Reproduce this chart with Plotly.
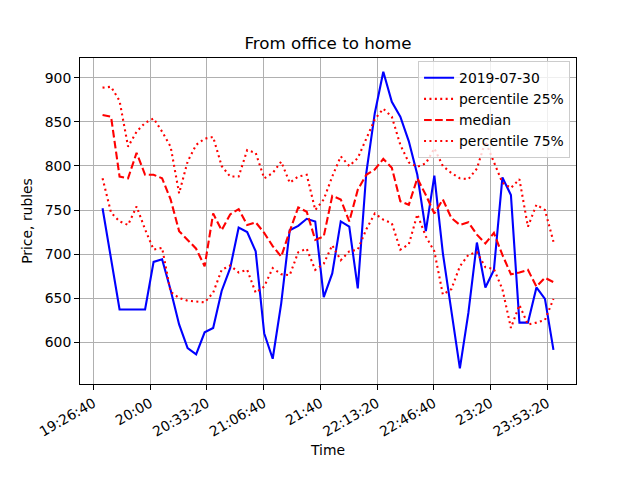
import plotly.graph_objects as go

# time of each observation (2019-07-30, every 5 minutes)
times = [
    "19:32", "19:37", "19:42", "19:47", "19:52", "19:57",
    "20:02", "20:07", "20:12", "20:17", "20:22", "20:27",
    "20:32", "20:37", "20:42", "20:47", "20:52", "20:57",
    "21:02", "21:07", "21:12", "21:17", "21:22", "21:27",
    "21:32", "21:37", "21:42", "21:47", "21:52", "21:57",
    "22:02", "22:07", "22:12", "22:17", "22:22", "22:27",
    "22:32", "22:37", "22:42", "22:47", "22:52", "22:57",
    "23:02", "23:07", "23:12", "23:17", "23:22", "23:27",
    "23:32", "23:37", "23:42", "23:47", "23:52", "23:57",
]
day = "2019-07-30"

price_day = [752, 697, 637, 637, 637, 637, 691, 694, 659, 620,
             593, 586, 611, 616, 658, 684, 730, 725, 703, 610,
             581, 644, 727, 732, 740, 737, 651, 678, 737, 731,
             661, 792, 860, 907, 873, 856, 828, 790, 726, 789,
             701, 637, 570, 633, 713, 662, 682, 787, 767, 622,
             622, 662, 649, 591]
perc_25 = [786, 747, 737, 733, 754, 728, 705, 707, 657, 650,
           647, 646, 645, 656, 682, 687, 679, 682, 656, 663,
           684, 677, 676, 702, 706, 682, 689, 710, 693, 703,
           705, 728, 746, 739, 735, 705, 711, 745, 720, 703,
           654, 660, 686, 699, 702, 685, 683, 660, 616, 642,
           620, 622, 625, 649]
median = [858, 856, 788, 786, 815, 790, 790, 786, 762, 726,
          716, 706, 686, 746, 727, 745, 751, 733, 736, 724,
          709, 697, 726, 753, 748, 716, 720, 766, 762, 737,
          773, 790, 796, 808, 798, 760, 756, 786, 767, 746,
          762, 741, 733, 736, 722, 712, 724, 699, 677, 679,
          682, 663, 673, 668]
perc_75 = [889, 890, 874, 822, 839, 849, 854, 839, 822, 769,
           805, 824, 831, 833, 800, 788, 788, 818, 815, 786,
           792, 805, 781, 788, 790, 750, 762, 788, 811, 800,
           809, 832, 853, 865, 856, 824, 804, 799, 803, 820,
           800, 792, 786, 785, 797, 828, 805, 781, 775, 785,
           731, 756, 750, 714]

tick_times = ["19:26:40", "20:00:00", "20:33:20", "21:06:40", "21:40:00",
              "22:13:20", "22:46:40", "23:20:00", "23:53:20"]
tick_labels = ["19:26:40", "20:00", "20:33:20", "21:06:40", "21:40",
               "22:13:20", "22:46:40", "23:20", "23:53:20"]
y_ticks = [600, 650, 700, 750, 800, 850, 900]

x = [f"{day} {t}" for t in times]
FONT = "DejaVu Sans"

fig = go.Figure()
fig.add_trace(go.Scatter(x=x, y=price_day, mode="lines", name="2019-07-30",
                         line=dict(color="#0000ff", width=2.1)))
fig.add_trace(go.Scatter(x=x, y=perc_75, mode="lines", name="percentile 25%",
                         line=dict(color="#ff0000", width=2.1, dash="2px,3.4px")))
fig.add_trace(go.Scatter(x=x, y=median, mode="lines", name="median",
                         line=dict(color="#ff0000", width=2.1, dash="7.7px,3.3px")))
fig.add_trace(go.Scatter(x=x, y=perc_25, mode="lines", name="percentile 75%",
                         line=dict(color="#ff0000", width=2.1, dash="2px,3.4px")))

axis_style = dict(
    showline=True, linecolor="black", linewidth=1, mirror=True,
    ticks="outside", ticklen=5, tickwidth=1, tickcolor="black",
    showgrid=True, gridcolor="#b0b0b0", gridwidth=1,
    zeroline=False, tickfont=dict(family=FONT, size=13.9, color="black"),
)

fig.update_xaxes(
    type="date",
    range=["2019-07-30 19:18:45", "2019-07-31 00:10:15"],
    tickvals=[f"{day} {t}" for t in tick_times], ticktext=tick_labels,
    tickangle=-30,
    title=dict(text="Time", font=dict(family=FONT, size=13.9, color="black"), standoff=6),
    **axis_style,
)
fig.update_yaxes(
    range=[552.3, 922.7], tickvals=y_ticks,
    title=dict(text="Price, rubles", font=dict(family=FONT, size=13.9, color="black"), standoff=8),
    **axis_style,
)

# the page body adds an 8px offset, so margins are shifted to compensate
fig.update_layout(
    width=640, height=480,
    margin=dict(l=72, r=72, t=50, b=104),
    paper_bgcolor="white", plot_bgcolor="white",
    font=dict(family=FONT, size=13.9, color="black"),
    title=dict(text="From office to home", x=0.5, xref="paper",
               y=1 - 35 / 480, yref="container", yanchor="middle",
               font=dict(family=FONT, size=16.7, color="black")),
    legend=dict(x=0.988, y=0.99, xanchor="right", yanchor="top",
                bgcolor="rgba(255,255,255,0.8)", bordercolor="#cccccc",
                borderwidth=1, itemwidth=30,
                font=dict(family=FONT, size=13.9, color="black")),
    showlegend=True,
)

fig.write_html("out.html")
